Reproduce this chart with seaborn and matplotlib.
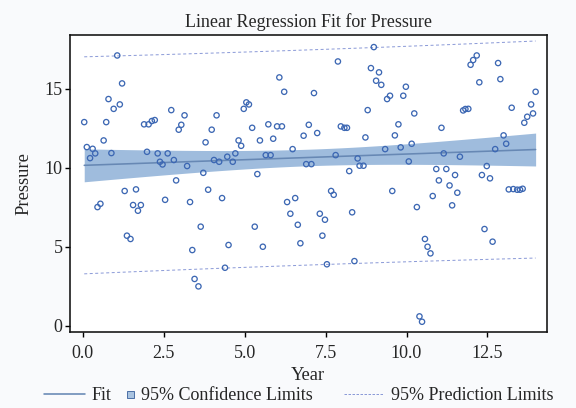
import numpy as np
import pandas as pd
import seaborn as sns
import matplotlib
matplotlib.use("Agg")
import matplotlib.pyplot as plt
from matplotlib.lines import Line2D

# Points
year = [
    1.06, 1.21, 0.79, 0.95, 1.14, 0.04, 0.72, 0.64, 0.12, 0.30, 0.22, 0.38, 0.88, 0.45, 0.54,
    1.29, 1.64, 1.55, 1.79, 1.70, 1.36, 1.47, 1.89, 2.03, 2.13, 2.22, 2.73, 3.14, 2.96, 3.04,
    4.13, 3.98, 3.79, 1.98, 2.31, 2.62, 2.38, 2.46, 2.81, 3.22, 2.88, 3.72, 4.05, 4.21, 4.46,
    2.54, 3.31, 3.87, 4.30, 3.64, 3.38, 4.50, 4.39, 3.45, 3.57,
    8.99, 7.88, 8.90, 9.15, 9.06, 9.22, 9.40, 6.07, 6.22, 7.14, 5.05, 4.97, 5.13, 8.80, 5.23,
    5.73, 6.00, 6.15, 6.98, 7.97, 8.08, 8.16, 4.81, 4.89, 5.47, 5.88, 6.82, 7.24, 8.73, 6.48,
    9.34, 4.71, 4.63, 5.65, 5.80, 5.39, 6.90, 7.06, 7.81, 8.49, 8.23, 8.55, 8.67, 6.31, 6.56,
    6.41, 7.67, 7.75, 7.32, 7.48, 6.64, 8.32, 5.31, 7.40, 6.72, 5.56, 7.54, 8.39,
    9.49, 9.98, 9.90, 10.24, 9.75, 9.64, 9.82, 10.16, 10.07, 9.56, 10.32, 10.57, 10.65, 10.74,
    10.40, 10.48, 11.08, 11.15, 11.65, 10.92, 11.23, 11.50, 11.00, 11.33, 11.57, 10.81, 11.41,
    11.98, 12.06, 12.17, 12.25, 12.83, 12.90, 11.75, 11.82, 11.91, 13.25, 13.99, 13.85, 13.91,
    13.73, 13.64, 13.00, 13.08, 12.74, 12.48, 12.33, 12.58, 13.16, 13.30, 13.42, 13.51, 13.59,
    12.41, 12.66,
]
pressure = [
    17.11, 15.34, 14.35, 13.73, 14.01, 12.89, 12.89, 11.73, 11.31, 11.20, 10.61, 10.91, 10.93, 7.51, 7.72,
    8.53, 8.63, 7.64, 7.64, 7.28, 5.70, 5.49, 12.75, 12.75, 12.96, 13.02, 13.65, 13.32, 12.41, 12.72,
    13.32, 12.41, 11.61, 11.01, 10.91, 10.91, 10.38, 10.21, 10.49, 10.11, 9.20, 9.68, 10.49, 10.38, 10.70,
    7.97, 7.83, 8.61, 8.08, 6.27, 4.79, 5.11, 3.67, 2.96, 2.49,
    17.64, 16.73, 16.31, 16.04, 15.51, 15.25, 14.35, 15.72, 14.81, 14.73, 14.14, 13.73, 14.01, 13.65, 12.53,
    12.75, 12.62, 12.62, 12.72, 12.62, 12.53, 12.53, 11.73, 11.39, 11.73, 11.84, 12.03, 12.20, 11.92, 11.18,
    11.18, 10.91, 10.38, 10.80, 10.80, 9.60, 10.23, 10.23, 10.80, 10.59, 9.79, 10.13, 10.13, 7.83, 8.08,
    7.09, 8.53, 8.29, 7.09, 6.71, 6.39, 7.18, 6.27, 5.70, 5.22, 5.00, 3.89, 4.09,
    14.56, 15.13, 14.56, 13.44, 12.75, 12.05, 11.29, 11.52, 10.40, 8.53, 7.51, 5.49, 5.00, 4.58,
    0.59, 0.25, 12.53, 10.91, 10.70, 9.92, 9.92, 9.54, 9.20, 8.88, 8.42, 8.21, 7.62,
    16.52, 16.82, 17.11, 15.41, 16.63, 15.61, 13.63, 13.72, 13.73, 13.80, 14.81, 14.01, 13.44,
    13.23, 12.85, 12.05, 11.52, 11.18, 10.11, 9.54, 9.33, 8.63, 8.65, 8.61, 8.61, 8.67,
    6.12, 5.32,
]
xticks = [0, 2.5, 5, 7.5, 10, 12.5]
xtick_labels = ["0.0", "2.5", "5.0", "7.5", "10.0", "12.5"]
yticks = [0, 5, 10, 15]

df = pd.DataFrame({"Year": year, "Pressure": pressure})

# OLS fit with confidence and prediction limits
x = df["Year"].to_numpy()
y = df["Pressure"].to_numpy()
n = len(x)
slope, intercept = np.polyfit(x, y, 1)
resid = y - (intercept + slope * x)
s = np.sqrt(np.sum(resid ** 2) / (n - 2))
sxx = np.sum((x - x.mean()) ** 2)
tval = 1.975

xs = np.linspace(x.min(), x.max(), 100)
fit = intercept + slope * xs
se_mean = s * np.sqrt(1 / n + (xs - x.mean()) ** 2 / sxx)
se_pred = s * np.sqrt(1 + 1 / n + (xs - x.mean()) ** 2 / sxx)
fitdf = pd.DataFrame({"Year": xs, "Fit": fit,
                      "lcl": fit - tval * se_mean, "ucl": fit + tval * se_mean,
                      "lpl": fit - tval * se_pred, "upl": fit + tval * se_pred})

sns.set_style("ticks")
plt.rcParams["font.family"] = ["Liberation Serif", "DejaVu Serif"]

fig = plt.figure(figsize=(8, 408 / 72), dpi=72)
fig.patch.set_facecolor("#f9fafc")
ax = fig.add_axes([0.1215, 0.187, 0.8275, 0.727])
ax.set_facecolor("white")

band_col = "#7fa6d2"
fit_col = "#6788b4"
pred_col = "#8c9bd8"
pt_col = "#3c67b3"

ax.fill_between(fitdf["Year"], fitdf["lcl"], fitdf["ucl"], color=band_col, alpha=0.75, lw=0)
sns.lineplot(data=fitdf, x="Year", y="Fit", ax=ax, color=fit_col, lw=1.6)
sns.lineplot(data=fitdf, x="Year", y="upl", ax=ax, color=pred_col, lw=1, linestyle=(0, (3, 2.5)))
sns.lineplot(data=fitdf, x="Year", y="lpl", ax=ax, color=pred_col, lw=1, linestyle=(0, (3, 2.5)))
sns.scatterplot(data=df, x="Year", y="Pressure", ax=ax, marker="o", s=28,
                facecolor="none", edgecolor=pt_col, linewidth=1.3, zorder=5)

ax.set_xlim(-0.4, 14.33)
ax.set_ylim(-0.38, 18.4)
ax.set_xticks(xticks)
ax.set_xticklabels(xtick_labels)
ax.set_yticks(yticks)
ax.tick_params(labelsize=18, width=1.4, length=5, color="black")
ax.tick_params(axis="x", pad=8)
ax.tick_params(axis="y", pad=2.5)
for sp in ax.spines.values():
    sp.set_linewidth(1.6)
    sp.set_color("#111111")

ax.set_title("Linear Regression Fit for Pressure", fontsize=18, pad=8)
ax.set_xlabel("Year", fontsize=18.5, labelpad=5)
ax.set_ylabel("Pressure", fontsize=18.5, labelpad=12)

# legend: three pieces so each handle keeps its own width
leg_y = 0.03
leg_kw = dict(loc="center left", frameon=False, fontsize=18, borderpad=0, borderaxespad=0)
fig.legend([Line2D([], [], color=fit_col, lw=1.6)], ["Fit"],
           bbox_to_anchor=(44 / 576, leg_y), handlelength=2.3, handletextpad=0.33, **leg_kw)
fig.legend([Line2D([], [], marker="s", ls="none", markersize=7, markerfacecolor="#a9c3e0",
                   markeredgecolor="#4f72a8", markeredgewidth=1)], ["95% Confidence Limits"],
           bbox_to_anchor=(126 / 576, leg_y), handlelength=0.46, handletextpad=0.4, **leg_kw)
fig.legend([Line2D([], [], color=pred_col, lw=1, linestyle=(0, (2.5, 1.5)))], ["95% Prediction Limits"],
           bbox_to_anchor=(344 / 576, leg_y), handlelength=2.15, handletextpad=0.47, **leg_kw)

fig.savefig("out.png", dpi=72, facecolor=fig.get_facecolor())
